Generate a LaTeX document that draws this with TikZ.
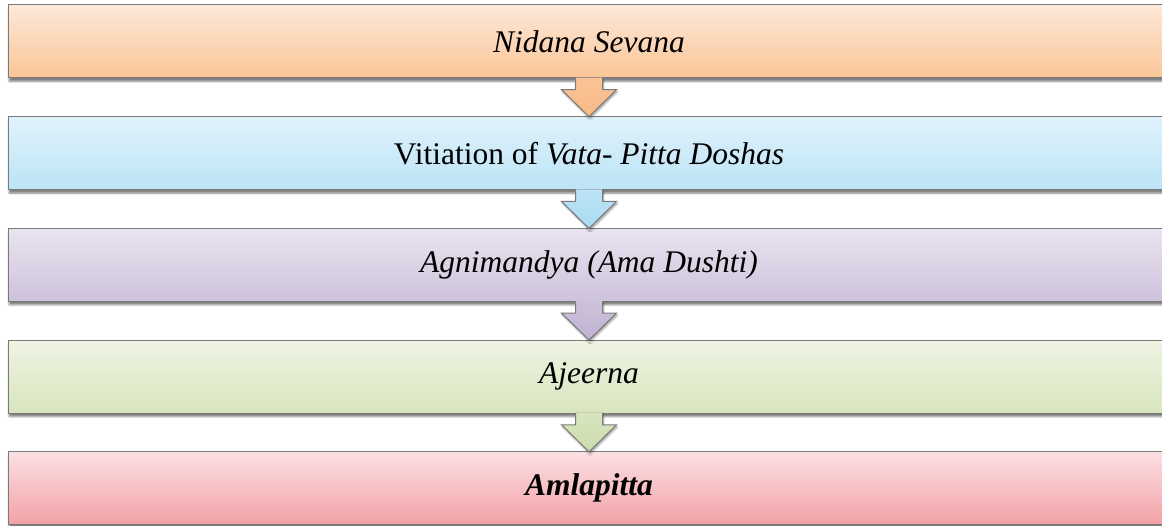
\documentclass[tikz,border=0pt]{standalone}
\usepackage{fontspec}
\setmainfont{Liberation Serif}
\usetikzlibrary{shadows.blur,calc}
\definecolor{oT}{HTML}{FDE8D8}\definecolor{oB}{HTML}{FAC597}\definecolor{oA}{HTML}{F9B883}
\definecolor{bT}{HTML}{DFF2FB}\definecolor{bB}{HTML}{BCE4F6}\definecolor{bA}{HTML}{A9DBF2}
\definecolor{pT}{HTML}{EAE4F0}\definecolor{pB}{HTML}{CDC2DB}\definecolor{pA}{HTML}{C0B2D2}
\definecolor{gT}{HTML}{EEF3E2}\definecolor{gB}{HTML}{D8E5BE}\definecolor{gA}{HTML}{CCDDAC}
\definecolor{rT}{HTML}{FCE0E3}\definecolor{rB}{HTML}{F2A1A6}
\definecolor{edge}{HTML}{7A7A7A}
\tikzset{
  flowbox/.style={draw=edge, line width=1pt, minimum width=1162pt, minimum height=73pt,
    inner sep=0pt, font=\fontsize{31.5}{36}\selectfont,
    blur shadow={shadow xshift=1pt, shadow yshift=-3.5pt, shadow blur steps=6, shadow opacity=50}},
  arrowedge/.style={draw=edge, line width=1pt, line join=miter},
}
\newcommand{\flowarrow}[4]{%
  % #1 upper node, #2 lower node, #3 top colour, #4 bottom colour
  \coordinate (s) at ($(#1.south)+(0,0.8pt)$);
  \coordinate (t) at (#2.north);
  \path[top color=#3, bottom color=#4, blur shadow={shadow xshift=1pt, shadow yshift=-2pt, shadow blur steps=5, shadow opacity=40}]
    ($(s)+(-13.5pt,0)$) -- ($(s)+(-13.5pt,-12pt)$) -- ($(s)+(-27.5pt,-12pt)$) -- ($(t)+(0,-0.5pt)$)
    -- ($(s)+(27.5pt,-12pt)$) -- ($(s)+(13.5pt,-12pt)$) -- ($(s)+(13.5pt,0)$) -- cycle;
  \draw[arrowedge]
    ($(s)+(-13.5pt,-0.3pt)$) -- ($(s)+(-13.5pt,-12pt)$) -- ($(s)+(-27.5pt,-12pt)$) -- ($(t)+(0,-0.5pt)$)
    -- ($(s)+(27.5pt,-12pt)$) -- ($(s)+(13.5pt,-12pt)$) -- ($(s)+(13.5pt,-0.3pt)$);
}
\begin{document}
\begin{tikzpicture}[x=1pt,y=1pt]
\useasboundingbox (0,0) rectangle (1162,526);
\node[flowbox, top color=oT, bottom color=oB] (b1) at (589,484.5) {\itshape Nidana Sevana};
\node[flowbox, top color=bT, bottom color=bB] (b2) at (589,372.8) {Vitiation of \textit{Vata}- \textit{Pitta Doshas}};
\node[flowbox, top color=pT, bottom color=pB] (b3) at (589,261.1) {\itshape Agnimandya (Ama Dushti)};
\node[flowbox, top color=gT, bottom color=gB] (b4) at (589,149.4) {\itshape Ajeerna};
\node[flowbox, top color=rT, bottom color=rB] (b5) at (589,37.7) {\bfseries\itshape Amlapitta};
\flowarrow{b1}{b2}{oB}{oA}
\flowarrow{b2}{b3}{bB}{bA}
\flowarrow{b3}{b4}{pB}{pA}
\flowarrow{b4}{b5}{gB}{gA}
\end{tikzpicture}
\end{document}
